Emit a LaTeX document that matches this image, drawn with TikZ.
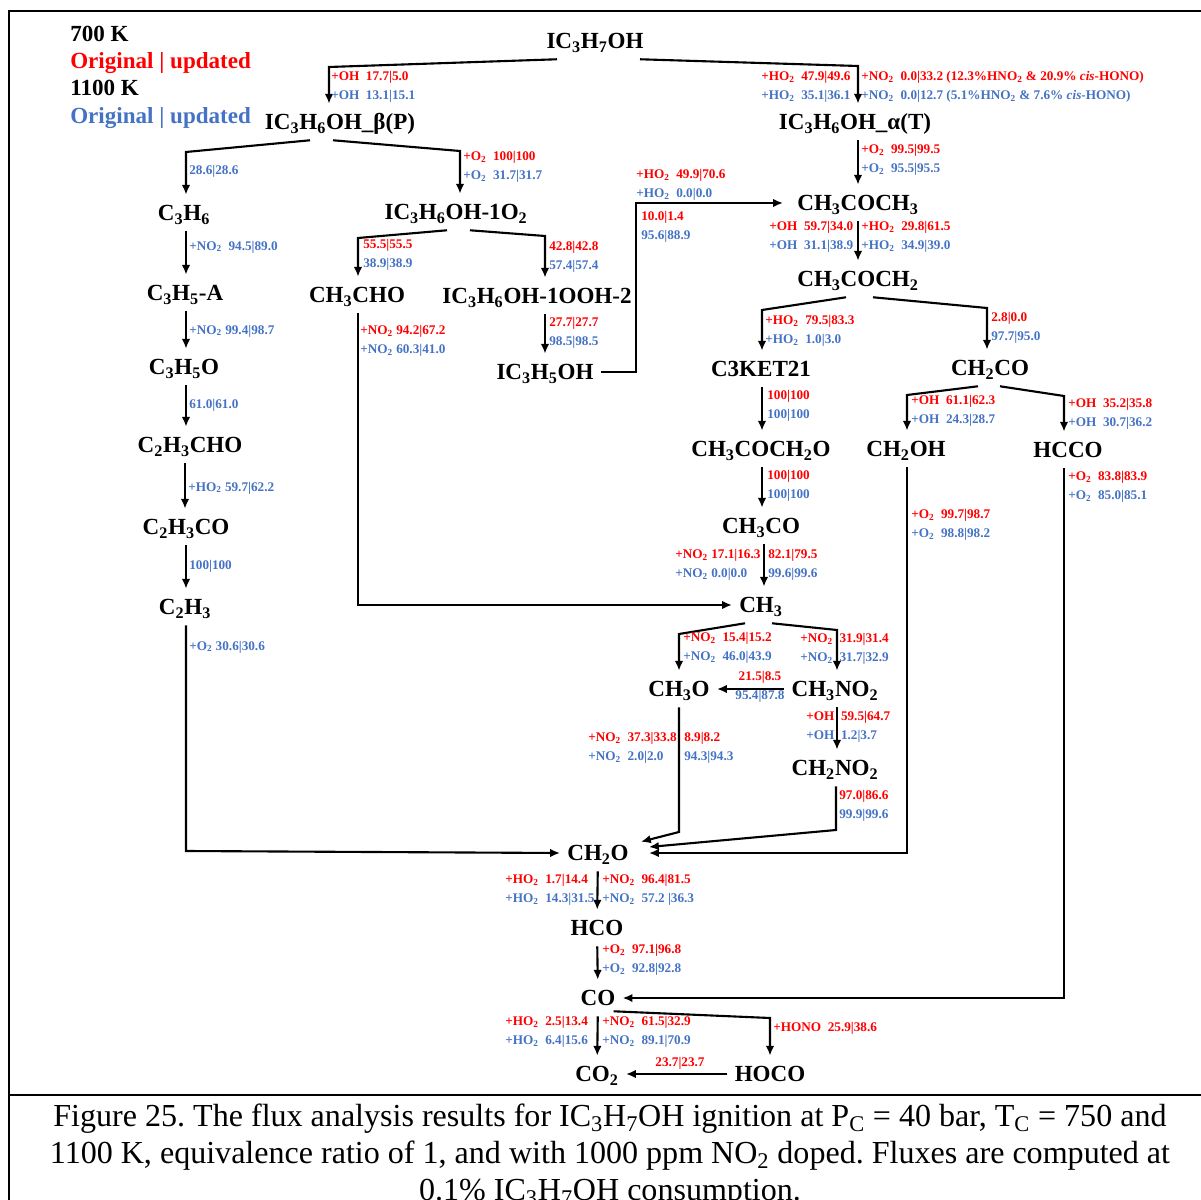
\documentclass[tikz,border=0pt]{standalone}
\usepackage{fontspec}
\setmainfont{Liberation Serif}
\usetikzlibrary{arrows.meta}
\definecolor{fluxred}{RGB}{255,0,0}
\definecolor{fluxblue}{RGB}{68,114,196}
\newcommand{\chsub}[1]{\textsubscript{#1}}
\newcommand{\rb}[2]{\textcolor{fluxred}{#1}\\\textcolor{fluxblue}{#2}}
\frenchspacing

\begin{document}
\begin{tikzpicture}[x=0.025cm,y=-0.025cm,
  spec/.style={font=\fontsize{16.4}{19}\selectfont\bfseries,inner xsep=5pt,inner ysep=0pt,
    text height=11.2pt,text depth=0.3pt,minimum height=25.6pt},
  lab/.style={font=\fontsize{9.4}{13.2}\selectfont\bfseries,align=left,inner sep=0pt,anchor=west},
  flow/.style={line width=1.5pt,-{Latex[length=7pt,width=6pt]}},
  frame/.style={line width=1.4pt}]
\useasboundingbox (0,0) rectangle (1201,1200);
\clip (0,0) rectangle (1201,1200);
\draw[frame] (9,1200) -- (9,11) -- (1201,11);
\draw[frame,line width=2pt] (9,1095) -- (1201,1095);

% legend
\node[font=\fontsize{16.4}{19.4}\selectfont\bfseries,align=left,inner sep=0pt,anchor=west] (key) at (70,77)
  {700 K\\\textcolor{fluxred}{Original | updated}\\1100 K\\\textcolor{fluxblue}{Original | updated}};

% species
\node[spec] (ip) at (595,41) {IC\chsub{3}H\chsub{7}OH};
\node[spec] (bp) at (340,122) {IC\chsub{3}H\chsub{6}OH\_β(P)};
\node[spec] (at) at (855,122) {IC\chsub{3}H\chsub{6}OH\_α(T)};
\node[spec] (c3h6) at (184,213) {C\chsub{3}H\chsub{6}};
\node[spec] (o2) at (456,212) {IC\chsub{3}H\chsub{6}OH-1O\chsub{2}};
\node[spec] (acet) at (858,203) {CH\chsub{3}COCH\chsub{3}};
\node[spec] (acety) at (858,279) {CH\chsub{3}COCH\chsub{2}};
\node[spec] (c3h5a) at (185,293) {C\chsub{3}H\chsub{5}-A};
\node[spec] (ald) at (357,295) {CH\chsub{3}CHO};
\node[spec] (ooh) at (537,296) {IC\chsub{3}H\chsub{6}OH-1OOH-2};
\node[spec] (enol) at (545,372) {IC\chsub{3}H\chsub{5}OH};
\node[spec] (ket) at (761,369) {C3KET21};
\node[spec] (ketene) at (990,368) {CH\chsub{2}CO};
\node[spec] (c3h5o) at (184,367) {C\chsub{3}H\chsub{5}O};
\node[spec] (acro) at (190,445) {C\chsub{2}H\chsub{3}CHO};
\node[spec] (acoxy) at (761,449) {CH\chsub{3}COCH\chsub{2}O};
\node[spec] (ch2oh) at (906,449) {CH\chsub{2}OH};
\node[spec] (hcco) at (1068,450) {HCCO};
\node[spec] (c2h3co) at (186,527) {C\chsub{2}H\chsub{3}CO};
\node[spec] (ch3co) at (761,526) {CH\chsub{3}CO};
\node[spec] (c2h3) at (185,607) {C\chsub{2}H\chsub{3}};
\node[spec] (ch3) at (761,605) {CH\chsub{3}};
\node[spec] (ch3o) at (679,689) {CH\chsub{3}O};
\node[spec] (ch3no2) at (835,689) {CH\chsub{3}NO\chsub{2}};
\node[spec] (ch2no2) at (835,768) {CH\chsub{2}NO\chsub{2}};
\node[spec] (ch2o) at (598,853) {CH\chsub{2}O};
\node[spec] (hco) at (597,928) {HCO};
\node[spec] (co) at (598,998) {CO};
\node[spec] (co2) at (597,1074) {CO\chsub{2}};
\node[spec] (hoco) at (770,1074) {HOCO};

% fluxes
\draw[flow] (ip.south -| 557,0) -- (329,67) -- (bp.north -| 329,0);
\draw[flow] (ip.south -| 640,0) -- (858,66) -- (at.north -| 858,0);
\draw[flow] (bp.south -| 310,0) -- (186,152) -- (c3h6.north -| 186,0);
\draw[flow] (bp.south -| 333,0) -- (460,151) -- (o2.north -| 460,0);
\draw[flow] (at.south -| 858,0) -- (acet.north);
\draw[flow] (c3h6.south -| 186,0) -- (c3h5a.north -| 186,0);
\draw[flow] (o2.south -| 447,0) -- (358,238) -- (ald.north -| 358,0);
\draw[flow] (o2.south -| 470,0) -- (545,236) -- (ooh.north -| 545,0);
\draw[flow] (acet) -- (acety);
\draw[flow] (c3h5a.south -| 186,0) -- (c3h5o.north -| 186,0);
\draw[flow] (ald.south -| 358,0) |- (ch3);
\draw[flow] (ooh.south -| 545,0) -- (enol.north);
\draw[flow] (enol.east) -| (636,203) -- ([shift={(-7,0)}]acet.west);
\draw[flow] (acety.south -| 846,0) -- (762,310) -- (ket.north -| 762,0);
\draw[flow] (acety.south -| 873,0) -- (987,308) -- (ketene.north -| 987,0);
\draw[flow] (ket.south -| 762,0) -- (acoxy.north -| 762,0);
\draw[flow] (ketene.south -| 978,0) -- (907,395) -- (ch2oh.north -| 907,0);
\draw[flow] (ketene.south -| 1000,0) -- (1064,396) -- (hcco.north -| 1064,0);
\draw[flow] (c3h5o.south -| 186,0) -- (acro.north -| 186,0);
\draw[flow] (acoxy.south -| 762,0) -- (ch3co.north -| 762,0);
\draw[flow] (acro.south -| 185,0) -- (c2h3co.north -| 185,0);
\draw[flow] (ch3co.south -| 764,0) -- (ch3.north -| 764,0);
\draw[flow] (c2h3co.south -| 186,0) -- (c2h3.north -| 186,0);
\draw[flow] (c2h3.south -| 186,0) -- (186,851) -- (ch2o.west);
\draw[flow] (ch3.south -| 745,0) -- (679,634) -- (ch3o.north -| 679,0);
\draw[flow] (ch3.south -| 772,0) -- (837,630) -- (ch3no2.north -| 837,0);
\draw[flow] (ch3no2.west) -- (ch3o.east);
\draw[flow] (ch3no2.south -| 837,0) -- (ch2no2.north -| 837,0);
\draw[flow] (ch3o.south -| 679,0) -- (679,832) -- ([shift={(5,7)}]ch2o.north east);
\draw[flow] (ch2no2.south -| 836,0) -- (836,830) -- ([shift={(13,-6)}]ch2o.east);
\draw[flow] (ch2oh.south -| 907,0) |- ([shift={(13,0)}]ch2o.east);
\draw[flow] (hcco.south -| 1064,0) |- (co);
\draw[flow] (ch2o) -- (hco);
\draw[flow] (hco) -- (co);
\draw[flow] (co) -- (co2);
\draw[flow] ([shift={(-9,-5)}]co.south east) -- (770,1018) -- (hoco.north);
\draw[flow] (hoco.west) -- (co2.east);

% flux labels
\node[lab] (l1) at (331,87) {\rb{+OH~~17.7|5.0}{+OH~~13.1|15.1}};
\node[lab] (l2) at (761,87) {\rb{+HO\chsub{2}~~47.9|49.6}{+HO\chsub{2}~~35.1|36.1}};
\node[lab] (l3) at (861,87) {\rb{+NO\chsub{2}~~0.0|33.2 (12.3\%HNO\chsub{2} \& 20.9\% \textit{cis}-HONO)}{+NO\chsub{2}~~0.0|12.7 (5.1\%HNO\chsub{2} \& 7.6\% \textit{cis}-HONO)}};
\node[lab,text=fluxblue] (l4) at (189,171) {28.6|28.6};
\node[lab] (l5) at (463,167) {\rb{+O\chsub{2}~~100|100}{+O\chsub{2}~~31.7|31.7}};
\node[lab] (l6) at (861,160) {\rb{+O\chsub{2}~~99.5|99.5}{+O\chsub{2}~~95.5|95.5}};
\node[lab,text=fluxblue] (l7) at (189,247) {+NO\chsub{2}~~94.5|89.0};
\node[lab] (l8) at (363,255) {\rb{55.5|55.5}{38.9|38.9}};
\node[lab] (l9) at (549,257) {\rb{42.8|42.8}{57.4|57.4}};
\node[lab] (l10) at (769,237) {\rb{+OH~~59.7|34.0}{+OH~~31.1|38.9}};
\node[lab] (l11) at (861,237) {\rb{+HO\chsub{2}~~29.8|61.5}{+HO\chsub{2}~~34.9|39.0}};
\node[lab,text=fluxblue] (l12) at (189,331) {+NO\chsub{2} 99.4|98.7};
\node[lab] (l13) at (360,341) {\rb{+NO\chsub{2} 94.2|67.2}{+NO\chsub{2} 60.3|41.0}};
\node[lab] (l14) at (549,333) {\rb{27.7|27.7}{98.5|98.5}};
\node[lab] (l15) at (636,185) {\rb{+HO\chsub{2}~~49.9|70.6}{+HO\chsub{2}~~0.0|0.0}};
\node[lab] (l16) at (641,227) {\rb{10.0|1.4}{95.6|88.9}};
\node[lab] (l17) at (765,331) {\rb{+HO\chsub{2}~~79.5|83.3}{+HO\chsub{2}~~1.0|3.0}};
\node[lab] (l18) at (991,328) {\rb{2.8|0.0}{97.7|95.0}};
\node[lab] (l19) at (767,406) {\rb{100|100}{100|100}};
\node[lab] (l20) at (911,411) {\rb{+OH~~61.1|62.3}{+OH~~24.3|28.7}};
\node[lab] (l21) at (1068,414) {\rb{+OH~~35.2|35.8}{+OH~~30.7|36.2}};
\node[lab,text=fluxblue] (l22) at (189,405) {61.0|61.0};
\node[lab] (l23) at (767,486) {\rb{100|100}{100|100}};
\node[lab,text=fluxblue] (l24) at (188,488) {+HO\chsub{2} 59.7|62.2};
\node[lab] (l25) at (675,565) {\rb{+NO\chsub{2} 17.1|16.3}{+NO\chsub{2} 0.0|0.0}};
\node[lab] (l26) at (768,565) {\rb{82.1|79.5}{99.6|99.6}};
\node[lab,text=fluxblue] (l27) at (189,566) {100|100};
\node[lab,text=fluxblue] (l28) at (189,647) {+O\chsub{2} 30.6|30.6};
\node[lab] (l29) at (683,648) {\rb{+NO\chsub{2}~~15.4|15.2}{+NO\chsub{2}~~46.0|43.9}};
\node[lab] (l30) at (800,649) {\rb{+NO\chsub{2}~~31.9|31.4}{+NO\chsub{2}~~31.7|32.9}};
\node[lab,align=center,anchor=center] (l31) at (760,687) {\rb{21.5|8.5}{95.4|87.8}};
\node[lab] (l32) at (806,727) {\rb{+OH~~59.5|64.7}{+OH~~1.2|3.7}};
\node[lab] (l33) at (588,748) {\rb{+NO\chsub{2}~~37.3|33.8}{+NO\chsub{2}~~2.0|2.0}};
\node[lab] (l34) at (684,748) {\rb{8.9|8.2}{94.3|94.3}};
\node[lab] (l35) at (839,806) {\rb{97.0|86.6}{99.9|99.6}};
\node[lab] (l36) at (911,525) {\rb{+O\chsub{2}~~99.7|98.7}{+O\chsub{2}~~98.8|98.2}};
\node[lab] (l37) at (1068,487) {\rb{+O\chsub{2}~~83.8|83.9}{+O\chsub{2}~~85.0|85.1}};
\node[lab] (l38) at (505,890) {\rb{+HO\chsub{2}~~1.7|14.4}{+HO\chsub{2}~~14.3|31.5}};
\node[lab] (l39) at (602,890) {\rb{+NO\chsub{2}~~96.4|81.5}{+NO\chsub{2}~~57.2 |36.3}};
\node[lab] (l40) at (602,960) {\rb{+O\chsub{2}~~97.1|96.8}{+O\chsub{2}~~92.8|92.8}};
\node[lab] (l41) at (505,1032) {\rb{+HO\chsub{2}~~2.5|13.4}{+HO\chsub{2}~~6.4|15.6}};
\node[lab] (l42) at (602,1032) {\rb{+NO\chsub{2}~~61.5|32.9}{+NO\chsub{2}~~89.1|70.9}};
\node[lab,text=fluxred] (l43) at (773,1028) {+HONO~~25.9|38.6};
\node[lab,text=fluxred,anchor=center] (l44) at (680,1063) {23.7|23.7};

% caption
\node[font=\fontsize{22.8}{26.3}\selectfont,align=center,inner sep=0pt] (cap) at (610,1156)
  {Figure 25. The flux analysis results for IC\chsub{3}H\chsub{7}OH ignition at P\chsub{C} = 40 bar, T\chsub{C} = 750 and\\
   1100 K, equivalence ratio of 1, and with 1000 ppm NO\chsub{2} doped. Fluxes are computed at\\
   0.1\% IC\chsub{3}H\chsub{7}OH consumption.};
\end{tikzpicture}
\end{document}
